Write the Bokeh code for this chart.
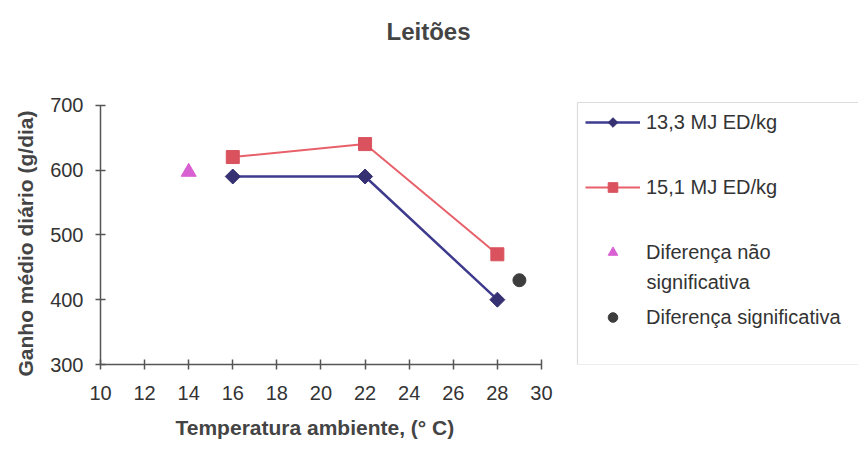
from bokeh.plotting import figure
from bokeh.models import Legend, LegendItem, Label, BoxAnnotation, FixedTicker, Title
from bokeh.embed import file_html
from bokeh.resources import INLINE

# Average daily gain of piglets by ambient temperature, for two diet energy levels
temperatura = [16, 22, 28]
ed_13_3 = [590, 590, 400]
ed_15_1 = [620, 640, 470]

# Isolated markers: non-significant and significant difference
temp_nao_sig = [14]
ganho_nao_sig = [597]
temp_sig = [29]
ganho_sig = [430]

x_ticks = [10, 12, 14, 16, 18, 20, 22, 24, 26, 28, 30]
y_ticks = [300, 400, 500, 600, 700]

FONT = "Liberation Sans"
TXT = "#333333"
AXIS = "#555555"

# The plotting frame reaches the top and right edges so that the title and
# legend can sit inside it; the axes are bounded to the data extent.
p = figure(
    width=858, height=449,
    x_range=(10, 44.38), y_range=(300, 861.5),
    min_border_left=100, min_border_right=0,
    min_border_top=0, min_border_bottom=84,
    output_backend="svg", toolbar_location=None,
)
p.outline_line_color = None
p.xgrid.visible = False
p.ygrid.visible = False
p.background_fill_color = "white"
p.border_fill_color = "white"

for ax in (p.xaxis[0], p.yaxis[0]):
    ax.axis_line_color = AXIS
    ax.axis_line_width = 1.5
    ax.major_tick_line_color = AXIS
    ax.major_tick_line_width = 1.5
    ax.major_tick_in = 5
    ax.major_tick_out = 5
    ax.minor_tick_line_color = None
    ax.major_label_text_font = FONT
    ax.major_label_text_font_size = "20px"
    ax.major_label_text_color = TXT

p.xaxis.ticker = FixedTicker(ticks=x_ticks)
p.yaxis.ticker = FixedTicker(ticks=y_ticks)
p.xaxis.bounds = (x_ticks[0], x_ticks[-1])
p.yaxis.bounds = (y_ticks[0], y_ticks[-1])
p.xaxis.major_label_standoff = 16
p.yaxis.major_label_standoff = 12

# Axis titles, aligned on the bounded axes rather than on the whole frame
p.add_layout(Title(text="Temperatura ambiente, (° C)", align="left", offset=75,
                   text_font=FONT, text_font_size="21px", text_font_style="bold",
                   text_color="#444444", standoff=22), "below")
p.add_layout(Title(text="Ganho médio diário (g/dia)", align="right", offset=110,
                   text_font=FONT, text_font_size="21px", text_font_style="bold",
                   text_color="#444444", standoff=22), "left")

# Series lines with markers
l13 = p.line(temperatura, ed_13_3, line_color="#3e3b8f", line_width=2.5)
m13 = p.ngon(temperatura, ed_13_3, radius=7.5, radius_units="screen", n=4,
             fill_color="#353172", line_color="#353172")
l15 = p.line(temperatura, ed_15_1, line_color="#e8606a", line_width=2)
m15 = p.scatter(temperatura, ed_15_1, marker="square", size=13,
                fill_color="#d9525e", line_color="#d9525e")
tri = p.scatter(temp_nao_sig, ganho_nao_sig, marker="triangle", size=15,
                fill_color="#d860d2", line_color="#d860d2")
dot = p.scatter(temp_sig, ganho_sig, marker="circle", size=13,
                fill_color="#3d3d3d", line_color="#3d3d3d")

legend = Legend(
    items=[
        LegendItem(label="13,3 MJ ED/kg", renderers=[l13, m13]),
        LegendItem(label="15,1 MJ ED/kg", renderers=[l15, m15]),
        LegendItem(label="Diferença não", renderers=[tri]),
        LegendItem(label="Diferença significativa", renderers=[dot]),
    ],
    location=(477, 27),
    orientation="vertical",
    padding=8, spacing=41, margin=0,
    glyph_width=55, glyph_height=24, label_height=24,
    label_standoff=6,
    label_text_font=FONT, label_text_font_size="20px", label_text_color=TXT,
    border_line_alpha=0, background_fill_alpha=0,
)
p.add_layout(legend, "center")

# Second line of the wrapped legend entry
p.add_layout(Label(x=546, y=83, x_units="screen", y_units="screen",
                   text="significativa", text_font=FONT, text_font_size="20px",
                   text_color=TXT, text_baseline="middle"))

# Legend frame
p.add_layout(BoxAnnotation(left=477, right=900, top=262, bottom=0,
                           left_units="screen", right_units="screen",
                           top_units="screen", bottom_units="screen",
                           fill_alpha=0, line_color="#8a8a8a", line_width=1.2))

# Chart title
p.add_layout(Label(x=328, y=333, x_units="screen", y_units="screen",
                   text="Leitões", text_font=FONT, text_font_size="24px",
                   text_font_style="bold", text_color="#444444",
                   text_align="center", text_baseline="middle"))

open("out.html", "w").write(file_html(p, INLINE))
